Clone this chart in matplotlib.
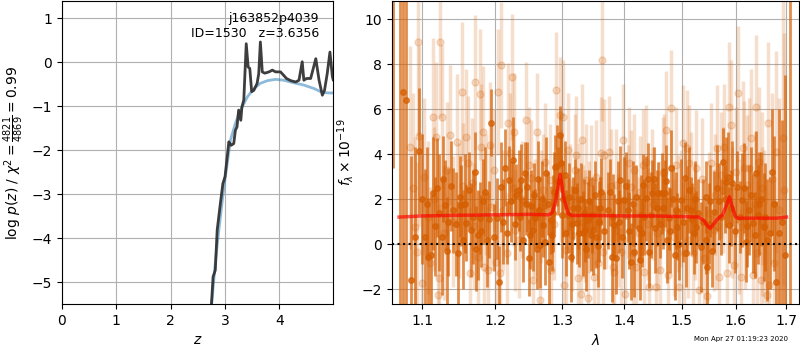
import numpy as np
import matplotlib
matplotlib.use('Agg')
import matplotlib.pyplot as plt
from matplotlib.ticker import NullLocator

# p(z) panel
z_pz = [2.75, 2.78, 2.82, 2.855, 2.915, 2.96, 3.0, 3.04, 3.07, 3.11, 3.16, 3.19, 3.22,
        3.25, 3.29, 3.31, 3.345, 3.39, 3.425, 3.455, 3.49, 3.53, 3.59, 3.62, 3.65,
        3.685, 3.73, 3.81, 3.87, 3.93, 4.02, 4.08, 4.13, 4.21, 4.30, 4.36, 4.42,
        4.45, 4.5, 4.575, 4.67, 4.73, 4.79, 4.83, 4.88, 4.93, 4.975, 4.99]
logp = [-5.5, -4.88, -4.73, -3.82, -3.2, -2.76, -2.6, -2.15, -1.81, -1.89, -1.85, -1.55, -1.47,
        -1.09, -1.32, -1.02, -0.86, 0.42, -0.11, -0.14, -0.67, -0.64, -0.48, -0.26, 0.46,
        -0.22, -0.25, -0.22, -0.18, -0.22, -0.22, -0.30, -0.37, -0.42, -0.45, -0.41, 0.01,
        -0.41, -0.37, -0.37, 0.08, -0.41, -0.75, -0.64, -0.26, 0.23, -0.33, -0.40]
z_prior = [2.75, 2.82, 2.885, 2.98, 3.04, 3.10, 3.19, 3.285, 3.41, 3.53, 3.65, 3.78, 3.93,
           4.08, 4.27, 4.45, 4.64, 4.79, 4.945, 4.99]
logp_prior = [-5.55, -4.57, -3.82, -2.83, -2.3, -1.77, -1.39, -1.09, -0.79, -0.60, -0.48,
              -0.42, -0.39, -0.41, -0.47, -0.52, -0.60, -0.69, -0.70, -0.70]

# spectrum panel, binned (dark) points
wave_bin = [1.0623, 1.0712, 1.0754, 1.0789, 1.0853, 1.0961, 1.1036, 1.1079, 1.1145, 1.1191,
            1.1258, 1.1302, 1.1346, 1.1414, 1.1482, 1.1527, 1.1574, 1.1597, 1.1667, 1.1713,
            1.1759, 1.1783, 1.1829, 1.1886, 1.1949, 1.2035, 1.2053, 1.2092, 1.2140, 1.2198,
            1.2261, 1.2310, 1.2344, 1.2384, 1.2433, 1.2473, 1.2507, 1.2556, 1.2592, 1.2631,
            1.2667, 1.2706, 1.2758, 1.2797, 1.2823, 1.2858, 1.2895, 1.2926, 1.2962, 1.3003,
            1.3039, 1.3090, 1.3143, 1.3179, 1.3231, 1.3273, 1.3325, 1.3363, 1.3405, 1.3460,
            1.3496, 1.3540, 1.3588, 1.3621, 1.3728, 1.3794, 1.3838, 1.3893, 1.3933, 1.4004,
            1.4059, 1.4116, 1.4172, 1.4245, 1.4285, 1.4313, 1.4371, 1.4427, 1.4484, 1.4531,
            1.4588, 1.4648, 1.4705, 1.4746, 1.4776, 1.4816, 1.4876, 1.4912, 1.4983, 1.5060,
            1.5101, 1.5162, 1.5222, 1.5253, 1.5344, 1.5436, 1.5465, 1.5515, 1.5589, 1.5682,
            1.5763, 1.5819, 1.5870, 1.5933, 1.6028, 1.6124, 1.6190, 1.6253, 1.6337, 1.6395,
            1.6448, 1.6546, 1.6611, 1.6711, 1.6779, 1.6845, 1.6905, 1.6966, 1.7067]
flux_bin = [12.0, 12.0, 6.77, 6.4, -1.6, 4.13, 0.33, -0.56, 2.25, 2.5,
            0.33, 1.73, 1.0, 1.5, -0.4, 1.73, 1.8, 0.93, 0.62, 3.2,
            0.4, 1.15, 1.9, 0.18, 5.4, 1.15, -1.67, 2.55, 3.4, 2.85,
            3.73, 2.18, 2.4, 2.85, 3.14, 2.55, 0.4, 0.62, 1.15, 2.9,
            -0.04, 0.84, 3.14, -0.78, 1.07, 1.36, 3.43, 3.47, 4.84, 1.29,
            3.07, 1.29, -0.56, 1.59, 0.92, 0.47, 0.47, 0.62, 1.07, 0.4,
            0.62, 0.33, 1.0, 2.33, 1.5, -0.56, 0.84, 1.9, 2.84, 1.96,
            1.5, -0.78, -0.34, 0.7, 1.29, 2.62, 2.03, -0.34, 2.25, 0.7,
            2.25, 2.25, 2.25, 0.18, 1.14, 3.36, -0.49, 0.77, 1.96, 2.92,
            1.59, 1.5, 0.47, 0.77, -0.12, 0.18, -1.0, 1.9, 1.44, 1.9,
            3.66, 2.77, 0.84, 2.7, 2.55, 1.96, 0.1, 1.5, 0.92, 3.14,
            1.8, 0.77, 0.18, 3.21, -1.67, 0.5, 1.0, -0.5, -5.0]
err_bin = [8.6, 15.0, 9.5, 9.5, 5.5, 2.8, 3.0, 2.6, 2.5, 2.2,
           2.6, 2.0, 2.4, 1.9, 2.3, 1.8, 2.2, 1.7, 2.1, 1.8,
           2.0, 1.6, 1.9, 2.1, 1.5, 1.8, 1.6, 2.0, 1.7, 1.5,
           1.9, 1.4, 1.8, 1.6, 1.4, 2.0, 1.5, 1.8, 1.3, 1.7,
           1.9, 1.4, 1.6, 2.0, 1.5, 1.7, 1.4, 1.8, 1.3, 1.9,
           1.5, 1.7, 2.0, 1.4, 1.8, 1.5, 1.9, 1.4, 1.7, 1.6,
           2.0, 1.4, 1.8, 1.5, 1.7, 2.0, 1.4, 1.8, 1.5, 1.9,
           1.4, 1.7, 2.0, 1.5, 1.8, 1.4, 1.9, 1.6, 1.5, 2.0,
           1.4, 1.8, 1.5, 1.9, 1.4, 1.7, 2.0, 1.5, 1.8, 1.6,
           1.9, 1.5, 1.8, 1.6, 2.0, 1.5, 1.9, 1.6, 1.8, 1.7,
           1.5, 2.0, 1.7, 1.9, 1.6, 2.1, 1.8, 2.0, 2.2, 1.9,
           2.3, 2.4, 2.7, 2.8, 3.6, 5.5, 4.5, 8.0, 16.0]

# binned points on the interleaved pixels
wave_bin2 = [1.0907, 1.0998, 1.1057, 1.1112, 1.1168, 1.1224, 1.1280, 1.1324, 1.1380, 1.1448,
             1.1505, 1.1550, 1.1632, 1.1690, 1.1736, 1.1806, 1.1858, 1.1918, 1.1992, 1.2116,
             1.2169, 1.2230, 1.2286, 1.2364, 1.2408, 1.2453, 1.2490, 1.2531, 1.2574, 1.2612,
             1.2649, 1.2687, 1.2732, 1.2778, 1.2840, 1.2876, 1.2944, 1.2982, 1.3021, 1.3064,
             1.3116, 1.3161, 1.3205, 1.3252, 1.3299, 1.3344, 1.3384, 1.3432, 1.3478, 1.3518,
             1.3564, 1.3605, 1.3675, 1.3761, 1.3816, 1.3866, 1.3913, 1.3968, 1.4031, 1.4088,
             1.4144, 1.4208, 1.4265, 1.4299, 1.4342, 1.4399, 1.4455, 1.4507, 1.4560, 1.4618,
             1.4676, 1.4725, 1.4796, 1.4846, 1.4894, 1.4948, 1.5022, 1.5080, 1.5131, 1.5192,
             1.5238, 1.5298, 1.5390, 1.5450, 1.5490, 1.5552, 1.5636, 1.5722, 1.5791, 1.5845,
             1.5902, 1.5980, 1.6076, 1.6157, 1.6222, 1.6295, 1.6366, 1.6422, 1.6497, 1.6578,
             1.6661, 1.6745]
flux_bin2 = [0.3, 2.0, 1.8, -0.5, 0.8, 1.4, 2.9, -0.3, 2.6, 0.9,
             2.1, 0.2, 2.4, 1.2, -0.2, 0.6, 2.3, 1.1, 0.3, 1.0,
             0.5, 1.9, 0.9, 1.2, 0.2, 1.8, -0.6, 1.7, 2.2, -0.2,
             1.5, 2.0, 0.1, 1.8, 0.4, 2.3, 2.8, 3.6, 2.0, 0.5,
             2.1, 0.9, 2.4, 1.6, 2.0, 1.4, -0.2, 1.9, 1.3, 2.2,
             -0.1, 1.6, 0.6, 2.3, 1.2, -0.6, 1.0, 0.3, 2.6, 0.6,
             1.8, 2.1, -0.7, 0.5, 1.2, 2.9, 1.3, 2.9, 1.6, 0.9,
             1.6, 2.8, 0.6, 2.0, 1.5, 0.0, 1.0, -0.4, 2.4, 1.1,
             2.0, 1.4, 1.0, 2.1, 0.9, -0.3, 2.5, 1.2, 2.0, 3.0,
             1.6, 0.6, 1.2, 2.5, 0.8, 2.2, 0.4, 1.3, 2.0, 1.2,
             0.5, 1.8]
err_bin2 = [4.0, 2.9, 2.5, 2.7, 2.2, 2.6, 1.9, 2.4, 2.0, 2.3,
            1.8, 2.2, 1.7, 2.1, 1.9, 1.6, 2.0, 1.7, 1.5, 1.9,
            1.4, 1.8, 1.6, 1.5, 1.9, 1.4, 1.7, 1.6, 1.4, 1.8,
            1.5, 1.7, 1.9, 1.4, 1.6, 1.8, 1.5, 1.3, 1.7, 1.9,
            1.5, 1.7, 1.4, 1.8, 1.6, 1.5, 1.9, 1.4, 1.7, 1.5,
            1.8, 1.4, 1.7, 1.5, 1.9, 1.6, 1.4, 1.8, 1.5, 1.7,
            1.9, 1.4, 1.8, 1.5, 1.7, 1.6, 1.9, 1.4, 1.7, 1.5,
            1.8, 1.6, 1.9, 1.5, 1.7, 1.6, 1.8, 1.5, 1.9, 1.6,
            1.7, 1.5, 1.9, 1.6, 1.8, 1.6, 1.9, 1.7, 1.5, 2.0,
            1.7, 1.9, 1.6, 2.0, 1.8, 2.1, 1.9, 2.2, 2.1, 2.4,
            2.5, 3.0]

# spectrum panel, unbinned (light) points
wave_raw = [1.0840, 1.0904, 1.0934, 1.0948, 1.0961, 1.0992, 1.1101, 1.1145, 1.1181, 1.1212,
            1.1226, 1.1235, 1.1258, 1.1370, 1.1461, 1.1500, 1.1529, 1.1588, 1.1620, 1.1644,
            1.1668, 1.1713, 1.1760, 1.1784, 1.1807, 1.1829, 1.1840, 1.1896, 1.1925, 1.1949,
            1.2016, 1.2041, 1.2065, 1.2082, 1.2167, 1.2193, 1.2216, 1.2246, 1.2281, 1.2291,
            1.2400, 1.2457, 1.2532, 1.2558, 1.2624, 1.2662, 1.2683, 1.2740, 1.2808, 1.2835,
            1.2911, 1.2962, 1.3013, 1.3032, 1.3066, 1.3117, 1.3196, 1.3223, 1.3244, 1.3291,
            1.3312, 1.3330, 1.3382, 1.3409, 1.3434, 1.3461, 1.3513, 1.3566, 1.3612, 1.3639,
            1.3651, 1.3669, 1.3746, 1.3812, 1.3841, 1.3866, 1.3952, 1.3978, 1.4024, 1.4117,
            1.4146, 1.4175, 1.4204, 1.4245, 1.4322, 1.4345, 1.4380, 1.4431, 1.4500, 1.4547,
            1.4568, 1.4621, 1.4661, 1.4719, 1.4750, 1.4808, 1.4900, 1.4929, 1.4955, 1.5016,
            1.5045, 1.5087, 1.5135, 1.5195, 1.5255, 1.5315, 1.5408, 1.5451, 1.5532, 1.5595,
            1.5600, 1.5654, 1.5686, 1.5719, 1.5781, 1.5835, 1.5875, 1.5907, 1.5968, 1.6034,
            1.6063, 1.6096, 1.6133, 1.6153, 1.6223, 1.6301, 1.6340, 1.6387, 1.6412, 1.6451,
            1.6483, 1.6500, 1.6516, 1.6602, 1.6630, 1.6648, 1.6748, 1.6783, 1.6935, 1.6949,
            1.0880, 1.1030, 1.1070, 1.1160, 1.1290, 1.1330, 1.1410, 1.1550, 1.1700, 1.1870,
            1.1980, 1.2120, 1.2260, 1.2350, 1.2490, 1.2590, 1.2710, 1.2870, 1.2990, 1.3100,
            1.3160, 1.3270, 1.3360, 1.3540, 1.3700, 1.3780, 1.3900, 1.4060, 1.4090, 1.4270,
            1.4410, 1.4480, 1.4600, 1.4680, 1.4860, 1.4990, 1.5110, 1.5160, 1.5240, 1.5360,
            1.5490, 1.5640, 1.5760, 1.5930, 1.6000, 1.6180, 1.6260, 1.6370, 1.6550, 1.6700,
            1.6850]
flux_raw = [4.3, 0.77, -0.34, 9.0, 4.8, -1.75, -0.86, 5.66, 4.77, -2.27,
            -1.52, 9.0, 5.66, 4.84, 4.55, 1.5, 6.77, 4.77, 3.59, -1.3,
            2.7, 7.2, -0.56, 6.65, 4.32, 5.0, -1.0, -1.16, 4.4, 1.66,
            -0.78, 6.77, -1.3, 7.96, -0.41, 5.36, 4.03, 7.44, 5.0, 0.62,
            2.0, 5.51, 2.92, -1.6, 5.0, -2.5, 1.66, 3.66, 2.84, -1.16,
            6.84, 5.73, 5.66, -1.82, -0.27, 1.96, 3.29, 3.96, -1.52, -2.2,
            4.62, 1.0, 2.84, -2.4, 1.21, 2.77, -1.45, -0.86, 4.03, 8.18,
            -0.34, 3.96, 4.1, -1.0, -1.23, 2.62, -0.34, 4.62, -2.2, 2.55,
            -0.41, 3.29, -1.0, 0.47, 3.51, -1.23, 3.66, -1.9, 1.8, -1.9,
            0.47, -1.16, 3.14, 5.07, -1.38, 6.03, 3.51, 1.36, -1.9, 4.48,
            -0.41, 4.25, 3.59, -0.41, 3.36, -2.04, -0.63, -2.31, 3.59, 0.62,
            2.2, 4.25, -1.45, 3.07, 4.32, -1.3, 6.1, 5.29, -0.93, 6.7,
            0.77, -1.45, 4.25, 3.36, 2.62, 4.7, -1.38, 6.1, -0.41, 3.66,
            -1.6, 1.0, 2.47, -2.27, 5.36, -1.82, -0.86, 4.1, 4.7, 2.4,
            2.5, 3.0, 1.2, 2.0, 0.5, 3.3, 1.0, 2.6, 0.8, 2.2,
            3.3, 1.5, 2.5, 0.2, 3.5, 1.2, 2.4, 0.9, 2.6, 4.2,
            0.4, 2.0, 0.8, 3.0, 1.4, 2.6, 0.6, 1.9, 3.6, 2.3,
            0.9, 2.6, 1.2, 3.2, 0.3, 1.6, 0.2, 2.4, 1.0, 2.9,
            1.4, 0.8, 2.4, 1.4, 3.2, 1.0, 3.4, 1.8, 0.8, 2.9,
            1.5]
err_raw = [4.5, 4.0, 4.0, 4.2, 4.0, 3.8, 3.4, 3.5, 3.3, 3.2,
           3.3, 3.4, 3.2, 3.1, 3.0, 3.0, 3.1, 3.0, 3.0, 2.9,
           2.9, 3.0, 2.9, 2.9, 2.8, 2.9, 2.8, 2.8, 2.8, 2.8,
           2.7, 2.8, 2.7, 2.8, 2.7, 2.7, 2.7, 2.8, 2.6, 2.7,
           2.6, 2.6, 2.6, 2.6, 2.6, 2.6, 2.5, 2.6, 2.5, 2.6,
           2.6, 2.6, 2.5, 2.6, 2.5, 2.5, 2.5, 2.6, 2.5, 2.5,
           2.5, 2.5, 2.5, 2.5, 2.5, 2.5, 2.5, 2.5, 2.5, 2.7,
           2.5, 2.5, 2.5, 2.5, 2.5, 2.5, 2.5, 2.5, 2.5, 2.5,
           2.5, 2.5, 2.5, 2.5, 2.5, 2.5, 2.5, 2.5, 2.5, 2.5,
           2.5, 2.5, 2.5, 2.6, 2.5, 2.6, 2.6, 2.6, 2.6, 2.6,
           2.6, 2.6, 2.6, 2.6, 2.6, 2.7, 2.7, 2.7, 2.7, 2.7,
           2.7, 2.8, 2.8, 2.8, 2.8, 2.8, 2.9, 2.9, 2.9, 3.0,
           3.0, 3.0, 3.0, 3.0, 3.1, 3.1, 3.2, 3.2, 3.2, 3.3,
           3.3, 3.3, 3.4, 3.5, 3.6, 3.6, 3.9, 4.5, 6.5, 7.0,
           4.2, 3.5, 3.4, 3.2, 3.0, 3.0, 2.9, 2.8, 2.8, 2.7,
           2.7, 2.7, 2.6, 2.6, 2.6, 2.6, 2.5, 2.5, 2.5, 2.5,
           2.5, 2.5, 2.5, 2.5, 2.5, 2.5, 2.5, 2.5, 2.5, 2.5,
           2.5, 2.5, 2.5, 2.6, 2.6, 2.6, 2.6, 2.6, 2.6, 2.7,
           2.7, 2.8, 2.8, 2.9, 2.9, 3.0, 3.1, 3.2, 3.4, 3.8,
           5.0]

# best-fit model
wave_model = [1.07, 1.10, 1.15, 1.20, 1.25, 1.28, 1.285, 1.29, 1.297, 1.303, 1.31, 1.315,
              1.35, 1.40, 1.45, 1.50, 1.53, 1.54, 1.547, 1.552, 1.557, 1.565, 1.575, 1.582,
              1.588, 1.594, 1.60, 1.605, 1.62, 1.65, 1.68, 1.70]
flux_model = [1.2, 1.25, 1.28, 1.3, 1.32, 1.3, 1.4, 1.9, 3.1, 2.0, 1.35, 1.27,
              1.27, 1.25, 1.25, 1.22, 1.2, 1.05, 0.8, 0.7, 0.85, 1.1, 1.3, 1.7,
              2.1, 1.6, 1.2, 1.15, 1.15, 1.15, 1.15, 1.2]

wave_ticks = [1.1, 1.2, 1.3, 1.4, 1.5, 1.6, 1.7]

g141 = (0.8352941176470589, 0.3686274509803922, 0.0)

fig = plt.figure(figsize=(8, 3.5), dpi=100)
ax_z = fig.add_axes([0.0775, 0.131, 0.339, 0.866])
ax_s = fig.add_axes([0.49, 0.131, 0.509, 0.866])

# p(z)
ax_z.plot(z_prior, logp_prior, color='tab:blue', alpha=0.5, lw=2)
ax_z.plot(z_pz, logp, color='0.2', lw=2, alpha=0.95)
ax_z.set_xlim(0, 4.99)
ax_z.set_ylim(-5.5, 1.39)
ax_z.set_xticks([0, 1, 2, 3, 4])
ax_z.set_yticks([-5, -4, -3, -2, -1, 0, 1])
ax_z.set_xlabel('$z$')
ax_z.set_ylabel(r'$\log\,p(z)$ / $\chi^2=\frac{4821}{4869}=0.99$')
ax_z.text(0.948, 0.965, 'j163852p4039\nID=1530   z=3.6356', transform=ax_z.transAxes,
          ha='right', va='top', fontsize=9)
ax_z.grid()

# spectrum
ax_s.errorbar(wave_raw, flux_raw, yerr=err_raw, color=g141, alpha=0.2, marker='o',
              markersize=5, linestyle='None', elinewidth=2.5)
ax_s.errorbar(wave_bin + wave_bin2, flux_bin + flux_bin2, yerr=err_bin + err_bin2,
              color=g141, alpha=0.7, marker='o', markersize=4, linestyle='None',
              elinewidth=2)
ax_s.plot(wave_model, flux_model, color='r', alpha=0.65, lw=2.5, zorder=5)
ax_s.axhline(0, color='k', linestyle=':', lw=1.5, zorder=6)
ax_s.set_xscale('log')
ax_s.set_xlim(1.061, 1.726)
ax_s.set_ylim(-2.67, 10.8)
ax_s.set_xticks(wave_ticks)
ax_s.set_xticklabels([str(t) for t in wave_ticks])
ax_s.xaxis.set_minor_locator(NullLocator())
ax_s.set_yticks([-2, 0, 2, 4, 6, 8, 10])
ax_s.set_xlabel(r'$\lambda$')
ax_s.set_ylabel(r'$f_\lambda\times10^{-19}$')
ax_s.grid()

fig.text(0.985, 0.03, 'Mon Apr 27 01:19:23 2020', ha='right', va='center', fontsize=5)

plt.savefig('out.png', dpi=100)
